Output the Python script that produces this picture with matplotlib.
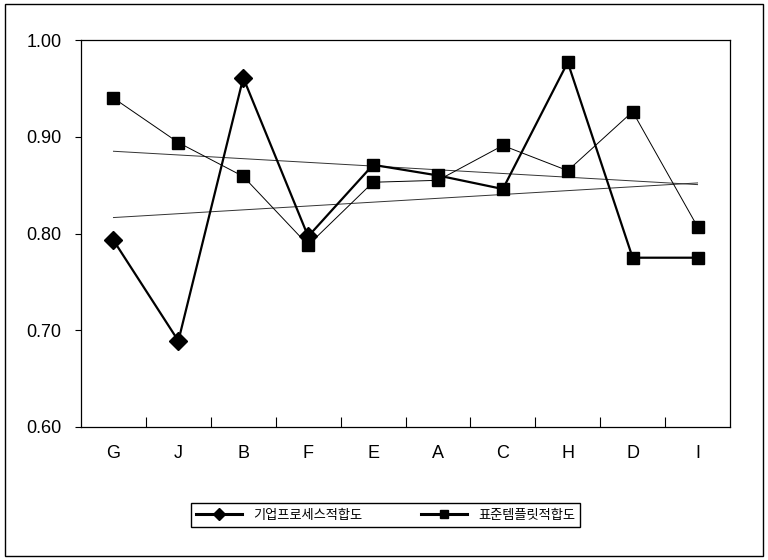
import matplotlib.pyplot as plt
import numpy as np
from matplotlib.lines import Line2D
from matplotlib.patches import Rectangle

plt.rcParams['font.family'] = ['Liberation Sans', 'Noto Sans CJK KR', 'DejaVu Sans']

# companies in ranking order
companies = ["G", "J", "B", "F", "E", "A", "C", "H", "D", "I"]
process_fit = [0.793, 0.689, 0.961, 0.797, 0.871, 0.860, 0.846, 0.977, 0.775, 0.775]
template_fit = [0.940, 0.894, 0.859, 0.788, 0.853, 0.855, 0.891, 0.865, 0.926, 0.807]
series_names = ["기업프로세스적합도", "표준템플릿적합도"]
y_ticks = [0.60, 0.70, 0.80, 0.90, 1.00]

fig = plt.figure(figsize=(7.68, 5.6), dpi=100)
ax = fig.add_axes([0.1055, 0.2375, 0.845, 0.691])
x = np.arange(len(companies))

# linear trend lines for both series
for vals in (process_fit, template_fit):
    k, b = np.polyfit(x, vals, 1)
    ax.plot(x, k * x + b, color="#333333", lw=0.7, zorder=1)

ax.plot(x, template_fit, color="black", lw=0.7, marker="s", ms=8,
        mfc="black", mec="black", zorder=2)
ax.plot(x, process_fit, color="black", lw=1.6, zorder=3)
ax.plot(x[:4], process_fit[:4], ls="none", marker="D", ms=9,
        mfc="black", mec="black", zorder=4)
ax.plot(x[4:], process_fit[4:], ls="none", marker="s", ms=8.5,
        mfc="black", mec="black", zorder=4)

ax.set_xlim(-0.5, len(companies) - 0.5)
ax.set_ylim(0.60, 1.00)
ax.set_yticks(y_ticks)
ax.set_yticklabels(["%.2f" % v for v in y_ticks], fontsize=13)
ax.set_xticks(x)
ax.set_xticklabels(companies, fontsize=13)
ax.tick_params(axis="x", length=0, pad=13)
ax.tick_params(axis="y", direction="out", length=4, width=0.8, pad=10)
# category boundary ticks along the bottom axis
ax.set_xticks(np.arange(0.5, len(companies) - 0.5, 1), minor=True)
ax.tick_params(axis="x", which="minor", direction="in", length=7, width=0.8)
for s in ax.spines.values():
    s.set_linewidth(0.9)

handles = [
    Line2D([], [], color="black", lw=2.2, marker="D", ms=6, mfc="black"),
    Line2D([], [], color="black", lw=2.2, marker="s", ms=6, mfc="black"),
]
fig.legend(handles, series_names, loc="center", bbox_to_anchor=(0.502, 0.08),
           ncol=2, frameon=True, fancybox=False, edgecolor="black",
           framealpha=1, handlelength=3.5, columnspacing=4.5,
           borderpad=0.4, prop={"family": ["Noto Sans CJK KR"], "size": 9.5})

fig.patches.append(Rectangle((0.006, 0.008), 0.988, 0.984, transform=fig.transFigure,
                             fill=False, edgecolor="black", lw=1))

fig.savefig("out.png", dpi=100)
